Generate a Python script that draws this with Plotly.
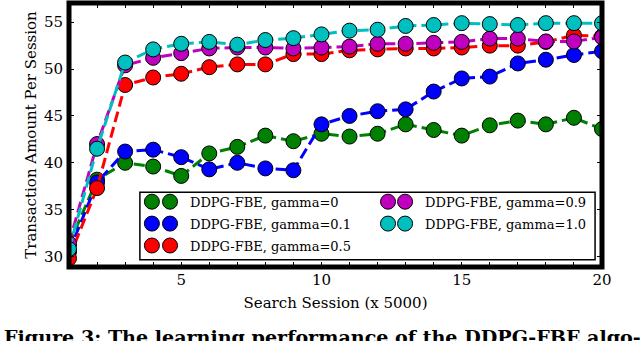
import plotly.graph_objects as go

# search session index (x 5000)
sessions = list(range(1, 21))

# transaction amount per session, one list per gamma
gamma_0 = [31.3, 38.2, 40.0, 39.6, 38.6, 41.0, 41.7, 42.9, 42.3, 43.1,
           42.8, 43.1, 44.1, 43.5, 42.9, 44.0, 44.5, 44.1, 44.8, 43.6]
gamma_01 = [30.5, 37.9, 41.2, 41.4, 40.6, 39.3, 40.0, 39.4, 39.2, 44.1,
            45.0, 45.5, 45.7, 47.6, 49.0, 49.2, 50.6, 51.0, 51.5, 51.9]
gamma_05 = [29.8, 37.3, 48.3, 49.1, 49.5, 50.2, 50.5, 50.5, 51.6, 51.6,
            52.0, 52.1, 52.2, 52.2, 52.3, 52.5, 52.5, 52.9, 53.6, 53.5]
gamma_09 = [31.4, 42.0, 50.4, 51.2, 51.7, 52.2, 52.3, 52.3, 52.2, 52.3,
            52.4, 52.7, 52.7, 52.8, 52.9, 53.25, 53.25, 52.95, 52.95, 53.4]
gamma_10 = [30.8, 41.5, 50.7, 52.1, 52.7, 52.9, 52.6, 53.1, 53.3, 53.7,
            54.1, 54.2, 54.6, 54.7, 54.9, 54.8, 54.7, 54.9, 54.9, 54.9]

# (label, values, colour, legend column, extra-symbol legend)
series = [
    ("DDPG-FBE, gamma=0", gamma_0, "#008000", "legend", "legend3"),
    ("DDPG-FBE, gamma=0.1", gamma_01, "#0000ff", "legend", "legend3"),
    ("DDPG-FBE, gamma=0.5", gamma_05, "#ff0000", "legend", "legend3"),
    ("DDPG-FBE, gamma=0.9", gamma_09, "#bf00bf", "legend2", "legend4"),
    ("DDPG-FBE, gamma=1.0", gamma_10, "#00bfbf", "legend2", "legend4"),
]

FONT = "DejaVu Serif"

fig = go.Figure()
for name, vals, col, leg, leg_extra in series:
    mk = dict(color=col, size=15, line=dict(color="black", width=1))
    # dashed line (no legend entry) then the markers on top
    fig.add_trace(go.Scatter(x=sessions, y=vals, mode="lines", showlegend=False,
                             line=dict(color=col, width=3, dash="11px,5px")))
    fig.add_trace(go.Scatter(x=sessions, y=vals, mode="markers", name=name,
                             legend=leg, legendgroup=name, marker=mk))
    # matplotlib-style legend shows two points per entry: second symbol only
    fig.add_trace(go.Scatter(x=[None], y=[None], mode="markers", name=" ",
                             legend=leg_extra, legendgroup=name + "x", marker=mk))

# legend box + axes frame
fig.add_shape(type="rect", xref="paper", yref="paper",
              x0=0.133, x1=0.987, y0=0.027, y1=0.283,
              line=dict(color="black", width=1.5), fillcolor="white", layer="above")
fig.add_shape(type="rect", xref="x domain", yref="y domain",
              x0=0, x1=1, y0=0, y1=1,
              line=dict(color="black", width=5), layer="above")

fig.add_annotation(text="<b>Figure 3: The learning performance of the DDPG-FBE algo-</b>",
                   xref="paper", yref="paper", x=-0.1255, y=-0.216,
                   xanchor="left", yanchor="top", showarrow=False,
                   font=dict(family=FONT, size=19.1, color="black"))

leg_style = dict(yanchor="top", xanchor="left", bgcolor="rgba(0,0,0,0)",
                 font=dict(size=13), tracegroupgap=2)

fig.update_layout(
    width=640, height=341,
    margin=dict(l=69, r=38, t=3, b=74),
    plot_bgcolor="white", paper_bgcolor="white",
    font=dict(family=FONT, size=15, color="black"),
    legend=dict(x=0.152, y=0.304, **leg_style),
    legend2=dict(x=0.593, y=0.304, **leg_style),
    legend3=dict(x=0.118, y=0.304, **leg_style),
    legend4=dict(x=0.561, y=0.304, **leg_style),
    xaxis=dict(range=[1, 20], tick0=0, dtick=5, ticks="inside", ticklen=5,
               mirror="allticks", showline=False, showgrid=False, zeroline=False,
               minor=dict(dtick=1, ticks="inside", ticklen=5, tickcolor="black"),
               tickcolor="black", ticklabelstandoff=2,
               title=dict(text="Search Session (x 5000)", font=dict(size=15), standoff=9)),
    yaxis=dict(range=[28.88, 57.05], tick0=0, dtick=5, ticks="inside", ticklen=5,
               mirror="allticks", showline=False, showgrid=False, zeroline=False,
               tickcolor="black", ticklabelstandoff=5,
               title=dict(text="Transaction Amount Per Session", font=dict(size=15), standoff=3)),
)

# page body has a default 8px margin; drop it so the figure sits at the corner
fig.write_html("out.html", config={"displayModeBar": False},
               post_script="document.body.style.margin='0';")
